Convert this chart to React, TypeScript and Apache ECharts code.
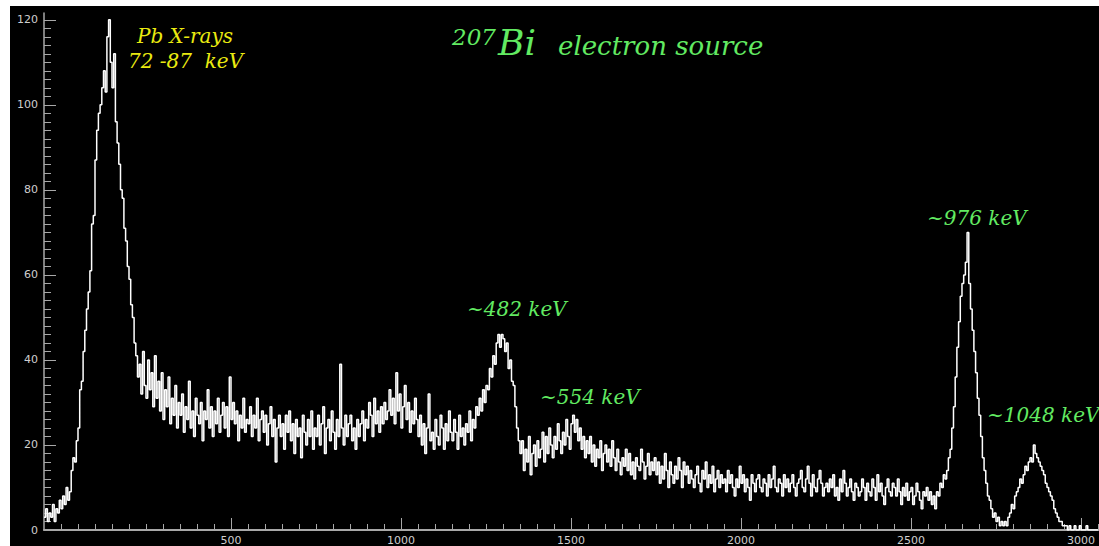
import React, { useEffect, useRef } from "react";
import * as echarts from "echarts";

// Histogram binning (channel units)
const BIN_START = -50;
const BIN_WIDTH = 5;

// Counts per 5-channel bin, from channel -50 upward (20 bins per row)
const counts: number[] = [
  // -50 .. 45
  3, 5, 2, 4, 3, 6, 2, 5, 4, 7, 5, 8, 6, 10, 7, 9, 14, 17, 16, 21,
  // 50 .. 145
  24, 33, 35, 42, 47, 52, 56, 61, 72, 74, 87, 94, 98, 100, 104, 108, 103, 116, 120, 110,
  // 150 .. 245
  104, 112, 96, 91, 86, 80, 78, 71, 68, 62, 59, 53, 50, 44, 41, 36, 39, 32, 42, 34,
  // 250 .. 345
  31, 40, 33, 37, 29, 41, 31, 35, 28, 37, 26, 33, 29, 36, 25, 31, 27, 34, 24, 30,
  // 350 .. 445
  27, 32, 23, 29, 26, 35, 24, 28, 22, 31, 27, 25, 30, 21, 28, 26, 33, 24, 29, 22,
  // 450 .. 545
  28, 25, 31, 23, 27, 30, 24, 29, 22, 36, 26, 30, 25, 28, 21, 27, 24, 31, 23, 26,
  // 550 .. 645
  25, 29, 22, 27, 24, 31, 21, 26, 28, 23, 27, 20, 25, 29, 22, 26, 16, 24, 27, 22,
  // 650 .. 745
  25, 19, 27, 23, 28, 21, 25, 18, 26, 22, 24, 17, 27, 23, 20, 26, 22, 28, 19, 24,
  // 750 .. 845
  22, 27, 20, 25, 29, 18, 24, 26, 21, 28, 23, 19, 26, 22, 39, 24, 20, 27, 22, 25,
  // 850 .. 945
  27, 21, 24, 19, 26, 22, 25, 28, 21, 26, 24, 30, 27, 22, 31, 25, 28, 23, 29, 25,
  // 950 .. 1045
  30, 26, 28, 33, 27, 31, 25, 37, 28, 32, 24, 29, 34, 26, 30, 23, 28, 25, 31, 26,
  // 1050 .. 1145
  22, 27, 20, 25, 18, 24, 32, 21, 23, 19, 26, 22, 20, 27, 24, 19, 25, 21, 28, 23,
  // 1150 .. 1245
  21, 26, 23, 19, 27, 22, 24, 20, 25, 23, 28, 21, 26, 24, 29, 27, 31, 28, 33, 30,
  // 1250 .. 1345
  34, 33, 38, 36, 41, 39, 44, 46, 43, 46, 45, 42, 44, 38, 40, 35, 34, 29, 24, 21,
  // 1350 .. 1445
  18, 21, 14, 19, 16, 22, 13, 18, 20, 15, 21, 17, 19, 23, 16, 22, 18, 24, 20, 17,
  // 1450 .. 1545
  22, 19, 25, 21, 18, 23, 20, 26, 22, 19, 25, 27, 23, 26, 21, 24, 19, 22, 17, 21,
  // 1550 .. 1645
  18, 22, 16, 20, 15, 19, 17, 21, 14, 18, 20, 16, 19, 15, 21, 17, 14, 19, 16, 13,
  // 1650 .. 1745
  17, 15, 19, 14, 18, 13, 16, 12, 17, 15, 14, 19, 16, 12, 15, 18, 13, 16, 14, 17,
  // 1750 .. 1845
  13, 16, 11, 15, 12, 18, 14, 10, 16, 13, 11, 15, 12, 17, 14, 10, 16, 13, 15, 11,
  // 1850 .. 1945
  14, 12, 10, 13, 15, 11, 9, 14, 12, 16, 10, 13, 11, 15, 9, 12, 14, 10, 13, 11,
  // 1950 .. 2045
  12, 9, 14, 11, 13, 10, 8, 12, 10, 15, 11, 13, 9, 12, 10, 7, 13, 11, 9, 12,
  // 2050 .. 2145
  13, 10, 9, 12, 11, 8, 13, 10, 12, 15, 10, 9, 12, 11, 8, 13, 10, 12, 9, 11,
  // 2150 .. 2245
  13, 10, 8, 11, 12, 14, 10, 9, 12, 15, 11, 8, 13, 10, 9, 12, 14, 11, 8, 10,
  // 2250 .. 2345
  11, 9, 12, 10, 13, 8, 10, 7, 12, 9, 14, 11, 8, 10, 12, 9, 7, 11, 10, 8,
  // 2350 .. 2445
  9, 12, 10, 7, 11, 9, 8, 12, 10, 7, 13, 9, 11, 8, 6, 10, 12, 9, 8, 11,
  // 2450 .. 2545
  10, 8, 12, 9, 6, 10, 8, 11, 7, 9, 10, 6, 8, 11, 9, 7, 5, 9, 8, 10,
  // 2550 .. 2645
  7, 9, 6, 8, 5, 9, 8, 11, 10, 13, 12, 14, 17, 19, 24, 29, 36, 43, 49, 55,
  // 2650 .. 2745
  58, 60, 63, 70, 58, 52, 47, 42, 37, 31, 27, 22, 17, 14, 11, 8, 7, 5, 3, 4,
  // 2750 .. 2845
  2, 3, 1, 2, 1, 2, 1, 3, 4, 6, 5, 8, 9, 10, 12, 11, 13, 15, 14, 16,
  // 2850 .. 2945
  17, 16, 20, 18, 17, 16, 15, 14, 13, 11, 10, 9, 8, 7, 5, 4, 3, 2, 2, 1,
  // 2950 .. 3045
  1, 1, 0, 1, 0, 0, 1, 0, 0, 1, 0, 0, 0, 1, 0, 0, 0, 0, 0, 0,
];

// Axis ranges and tick positions
const X_MIN = -50;
const X_MAX = 3053;
const Y_MIN = 0;
const Y_MAX = 121.6;
const xMajorTicks = [500, 1000, 1500, 2000, 2500, 3000];
const yMajorTicks = [0, 20, 40, 60, 80, 100, 120];

const xMinorTicks: number[] = [];
for (let v = 0; v <= 3050; v += 50) xMinorTicks.push(v);
const yMinorTicks: number[] = [];
for (let v = 0; v <= 120; v += 2) yMinorTicks.push(v);

// Annotation texts (baseline positions)
const peakLabels = [
  { text: "~482 keV", x: 467, y: 315 },
  { text: "~554 keV", x: 540, y: 403 },
  { text: "~976 keV", x: 927, y: 224 },
  { text: "~1048 keV", x: 987, y: 421 },
];

const GREEN = "#62ea62";
const YELLOW = "#eaea10";
const AXIS_GRAY = "#a8a8a8";
const LABEL_GRAY = "#cfcfcf";
const SERIF_ITALIC = (size: number) => `italic ${size}px "DejaVu Serif"`;

// text element placed by its baseline
const serifText = (text: string, x: number, baseline: number, size: number, fill: string) => ({
  type: "text",
  z: 10,
  style: {
    text,
    x,
    y: baseline - Math.round(size * 0.8),
    fill,
    font: SERIF_ITALIC(size),
    verticalAlign: "top",
  },
});

export default function App() {
  const ref = useRef<HTMLDivElement>(null);

  useEffect(() => {
    if (!ref.current) return;
    const chart = echarts.init(ref.current, undefined, { renderer: "svg" });

    const points: [number, number][] = counts.map((c, i) => [
      BIN_START + i * BIN_WIDTH,
      c,
    ]);
    // closing edge of the last bin
    points.push([BIN_START + counts.length * BIN_WIDTH, counts[counts.length - 1]]);

    const axisLabelStyle = {
      color: LABEL_GRAY,
      fontFamily: "DejaVu Sans",
      fontSize: 11,
      formatter: (v: number) => String(v),
    };

    chart.setOption({
      animation: false,
      backgroundColor: "#000000",
      grid: { left: 44, top: 13, width: 1055, height: 517, containLabel: false },
      xAxis: [
        {
          type: "value",
          min: X_MIN,
          max: X_MAX,
          position: "bottom",
          axisLine: { show: true, onZero: false, lineStyle: { color: AXIS_GRAY, width: 2 } },
          axisTick: {
            show: true,
            inside: true,
            length: 6,
            customValues: xMinorTicks,
            lineStyle: { color: AXIS_GRAY, width: 1 },
          },
          axisLabel: {
            show: true,
            margin: 5,
            customValues: xMajorTicks,
            ...axisLabelStyle,
          },
          splitLine: { show: false },
        },
        {
          type: "value",
          min: X_MIN,
          max: X_MAX,
          position: "bottom",
          axisLine: { show: false, onZero: false },
          axisTick: {
            show: true,
            inside: true,
            length: 12,
            customValues: xMajorTicks,
            lineStyle: { color: AXIS_GRAY, width: 1 },
          },
          axisLabel: { show: false },
          splitLine: { show: false },
        },
      ],
      yAxis: [
        {
          type: "value",
          min: Y_MIN,
          max: Y_MAX,
          position: "left",
          axisLine: { show: true, onZero: false, lineStyle: { color: AXIS_GRAY, width: 1.5 } },
          axisTick: {
            show: true,
            inside: true,
            length: 7,
            customValues: yMinorTicks,
            lineStyle: { color: AXIS_GRAY, width: 1 },
          },
          axisLabel: {
            show: true,
            margin: 6,
            customValues: yMajorTicks,
            ...axisLabelStyle,
          },
          splitLine: { show: false },
        },
        {
          type: "value",
          min: Y_MIN,
          max: Y_MAX,
          position: "left",
          axisLine: { show: false, onZero: false },
          axisTick: {
            show: true,
            inside: true,
            length: 12,
            customValues: yMajorTicks,
            lineStyle: { color: AXIS_GRAY, width: 1 },
          },
          axisLabel: { show: false },
          splitLine: { show: false },
        },
      ],
      series: [
        {
          type: "line",
          xAxisIndex: 0,
          yAxisIndex: 0,
          step: "end",
          showSymbol: false,
          symbol: "none",
          data: points,
          lineStyle: { color: "#ffffff", width: 1.5 },
          z: 5,
        },
      ],
      graphic: [
        // white page margins at top and left
        { type: "rect", shape: { x: 0, y: 0, width: 1099, height: 6 }, style: { fill: "#ffffff" }, z: 10 },
        { type: "rect", shape: { x: 0, y: 0, width: 10, height: 546 }, style: { fill: "#ffffff" }, z: 10 },
        serifText("Pb X-rays", 137, 42, 20, YELLOW),
        serifText("72 -87  keV", 128, 67, 20, YELLOW),
        serifText("207", 452, 43, 23, GREEN),
        serifText("Bi", 498, 53, 36, GREEN),
        serifText("electron source", 558, 54, 26, GREEN),
        ...peakLabels.map((p) => serifText(p.text, p.x, p.y, 20, GREEN)),
      ],
    });

    return () => chart.dispose();
  }, []);

  return (
    <div
      ref={ref}
      style={{ position: "absolute", left: 0, top: 0, width: 1099, height: 546 }}
    />
  );
}
